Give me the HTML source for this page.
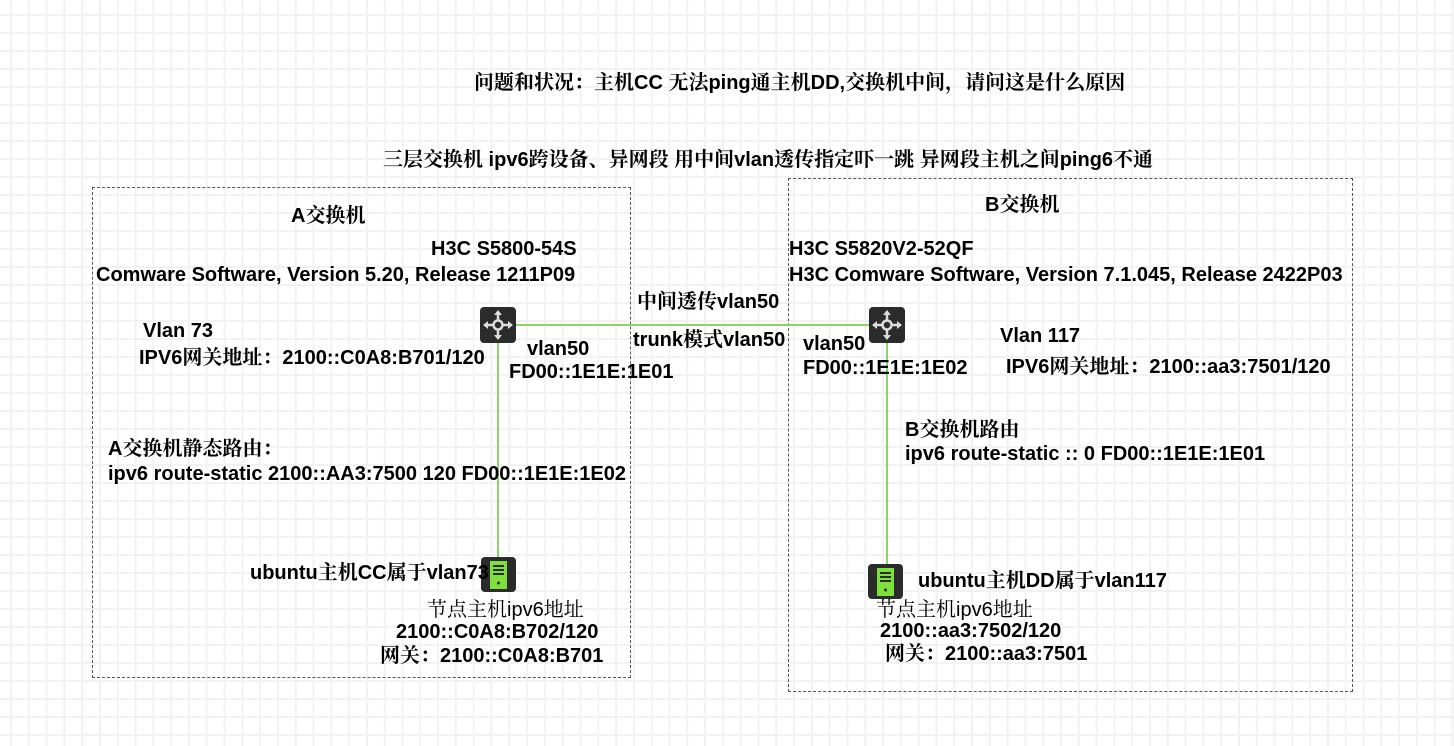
<!DOCTYPE html>
<html><head><meta charset="utf-8"><style>
html,body{margin:0;padding:0}
body{width:1454px;height:746px;position:relative;overflow:hidden;background-color:#fff;
background-image:linear-gradient(to right,#f2f2f2 2px,transparent 2px),linear-gradient(to bottom,#f2f2f2 2px,transparent 2px);
background-size:17.8px 18px;background-position:10px 14px;
font-family:"Liberation Sans","Noto Serif CJK SC",sans-serif;font-weight:bold;font-size:20px;color:#000}
.t{position:absolute;white-space:nowrap;line-height:22px}
.box{position:absolute;border:1px dashed #555}
</style></head><body>
<div class="box" style="left:92px;top:187px;width:537px;height:489px"></div>
<div class="box" style="left:788px;top:178px;width:563px;height:512px"></div>
<svg style="position:absolute;left:0;top:0" width="1454" height="746">
<line x1="498" y1="325" x2="887" y2="325" stroke="#8fd16a" stroke-width="2"/>
<line x1="498" y1="340" x2="498" y2="558" stroke="#8fd16a" stroke-width="2"/>
<line x1="887" y1="340" x2="887" y2="565" stroke="#8fd16a" stroke-width="2"/>
<g id="sw"><rect x="480" y="307" width="36" height="36" rx="4" fill="#2b2b2b"/>
<g stroke="#ddd" stroke-width="2.5" fill="none"><circle cx="498" cy="325" r="4.5"/>
<line x1="498" y1="312" x2="498" y2="320"/><line x1="498" y1="330" x2="498" y2="338"/>
<line x1="485" y1="325" x2="493" y2="325"/><line x1="503" y1="325" x2="511" y2="325"/></g>
<g fill="#ddd"><path d="M498 310l-4 5h8z"/><path d="M498 340l-4-5h8z"/><path d="M483 325l5-4v8z"/><path d="M513 325l-5-4v8z"/></g></g>
<use href="#sw" x="389" y="0"/>
<g id="sv"><rect x="481" y="557" width="35" height="35" rx="4" fill="#2b2b2b"/>
<rect x="490" y="561" width="17" height="28" fill="#7ee03a"/>
<rect x="493" y="565" width="11" height="2" fill="#2b2b2b"/><rect x="493" y="569" width="11" height="2" fill="#2b2b2b"/><rect x="493" y="573" width="11" height="2" fill="#2b2b2b"/>
<circle cx="498.5" cy="583" r="1.5" fill="#2b2b2b"/></g>
<use href="#sv" x="387" y="7"/>
</svg>
<div class="t" style="left:474px;top:72px">问题和状况：主机CC 无法ping通主机DD,交换机中间，请问这是什么原因</div>
<div class="t" style="left:383px;top:149px">三层交换机 ipv6跨设备、异网段 用中间vlan透传指定吓一跳 异网段主机之间ping6不通</div>
<div class="t" style="left:291px;top:205px">A交换机</div>
<div class="t" style="left:431px;top:238px">H3C S5800-54S</div>
<div class="t" style="left:96px;top:264px">Comware Software, Version 5.20, Release 1211P09</div>
<div class="t" style="left:637px;top:291px">中间透传vlan50</div>
<div class="t" style="left:143px;top:320px">Vlan 73</div>
<div class="t" style="left:139px;top:347px">IPV6网关地址：2100::C0A8:B701/120</div>
<div class="t" style="left:527px;top:338px">vlan50</div>
<div class="t" style="left:509px;top:361px">FD00::1E1E:1E01</div>
<div class="t" style="left:633px;top:329px">trunk模式vlan50</div>
<div class="t" style="left:985px;top:194px">B交换机</div>
<div class="t" style="left:789px;top:238px">H3C S5820V2-52QF</div>
<div class="t" style="left:789px;top:264px">H3C Comware Software, Version 7.1.045, Release 2422P03</div>
<div class="t" style="left:803px;top:333px">vlan50</div>
<div class="t" style="left:803px;top:357px">FD00::1E1E:1E02</div>
<div class="t" style="left:1000px;top:325px">Vlan 117</div>
<div class="t" style="left:1006px;top:356px">IPV6网关地址：2100::aa3:7501/120</div>
<div class="t" style="left:905px;top:419px">B交换机路由</div>
<div class="t" style="left:905px;top:443px">ipv6 route-static :: 0 FD00::1E1E:1E01</div>
<div class="t" style="left:108px;top:438px">A交换机静态路由：</div>
<div class="t" style="left:108px;top:463px">ipv6 route-static 2100::AA3:7500 120 FD00::1E1E:1E02</div>
<div class="t" style="left:250px;top:562px">ubuntu主机CC属于vlan73</div>
<div class="t" style="left:427px;top:599px;font-weight:normal">节点主机ipv6地址</div>
<div class="t" style="left:396px;top:621px">2100::C0A8:B702/120</div>
<div class="t" style="left:380px;top:645px">网关：2100::C0A8:B701</div>
<div class="t" style="left:918px;top:570px">ubuntu主机DD属于vlan117</div>
<div class="t" style="left:876px;top:599px;font-weight:normal">节点主机ipv6地址</div>
<div class="t" style="left:880px;top:620px">2100::aa3:7502/120</div>
<div class="t" style="left:885px;top:643px">网关：2100::aa3:7501</div>
</body></html>
